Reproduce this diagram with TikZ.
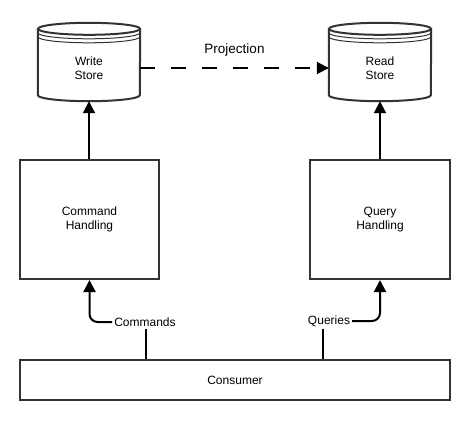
\documentclass[tikz,border=0pt]{standalone}
\usepackage{fontspec}
\setmainfont{Liberation Sans}
\usetikzlibrary{arrows.meta,positioning,calc}
\definecolor{boxline}{HTML}{333333}
\tikzset{
  plainbox/.style={draw=boxline, line width=2pt, align=center, inner sep=0pt,
    font=\fontsize{12}{14}\selectfont},
  storebody/.style={align=center, inner sep=0pt, minimum width=102pt,
    minimum height=66pt, font=\fontsize{12}{14}\selectfont},
  storeline/.style={draw=boxline, line width=2pt},
  ringline/.style={draw=boxline, line width=1pt},
  arr/.style={-{Triangle[length=12pt,width=12pt]}, line width=2pt},
  flowlabel/.style={inner sep=2pt, font=\fontsize{12}{14}\selectfont}
}
% outline of a store drum around its body node
\newcommand{\storedrum}[1]{%
  \draw[storeline] ($(#1.north west)+(0,-6)$) -- ($(#1.south west)+(0,-6)$)
    arc[start angle=180, end angle=0, x radius=51, y radius=6]
    -- ($(#1.north east)+(0,-6)$);
  \draw[storeline] ($(#1.north)+(0,-6)$) ellipse[x radius=51, y radius=6];
  \draw[ringline] ($(#1.north west)+(0,-2)$) arc[start angle=180, end angle=0, x radius=51, y radius=6];
  \draw[ringline] ($(#1.north west)+(0,2)$) arc[start angle=180, end angle=0, x radius=51, y radius=6];
}

\begin{document}
\begin{tikzpicture}[x=1pt,y=-1pt]
  \useasboundingbox (0,0) rectangle (476,420);
  % stores
  \node[storebody] (write) at (89,68) {Write\\Store};
  \node[storebody] (read) at (380,68) {Read\\Store};
  \storedrum{write}
  \storedrum{read}
  % handlers and consumer
  \node[plainbox, minimum width=139pt, minimum height=119pt] (cmd) at (89.5,219.5) {Command\\Handling};
  \node[plainbox, minimum width=140pt, minimum height=119pt] (query) at (380,219.5) {Query\\Handling};
  \node[plainbox, minimum width=430pt, minimum height=40pt] (consumer) at (235,380) {Consumer};
  % labels on the consumer links
  \node[flowlabel] (cmdlbl) at (145,322) {Commands};
  \node[flowlabel] (querylbl) at (329,321) {Queries};

  \draw[arr, dash pattern=on 15pt off 16pt] (write.east) -- (read.west)
    node[midway, yshift=18pt, font=\fontsize{13.5}{16}\selectfont] {Projection};
  \draw[arr] (cmd.north -| write.south) -- (write.south);
  \draw[arr] (query.north) -- (read.south);

  \draw[line width=2pt] (cmdlbl.south -| 146,0) -- (consumer.north -| 146,0);
  \draw[arr, rounded corners=8pt] (cmdlbl.west) -| (cmd.south);
  \draw[line width=2pt] (querylbl.south -| 323,0) -- (consumer.north -| 323,0);
  \draw[arr, rounded corners=8pt] (querylbl.east) -| (query.south);
\end{tikzpicture}
\end{document}
